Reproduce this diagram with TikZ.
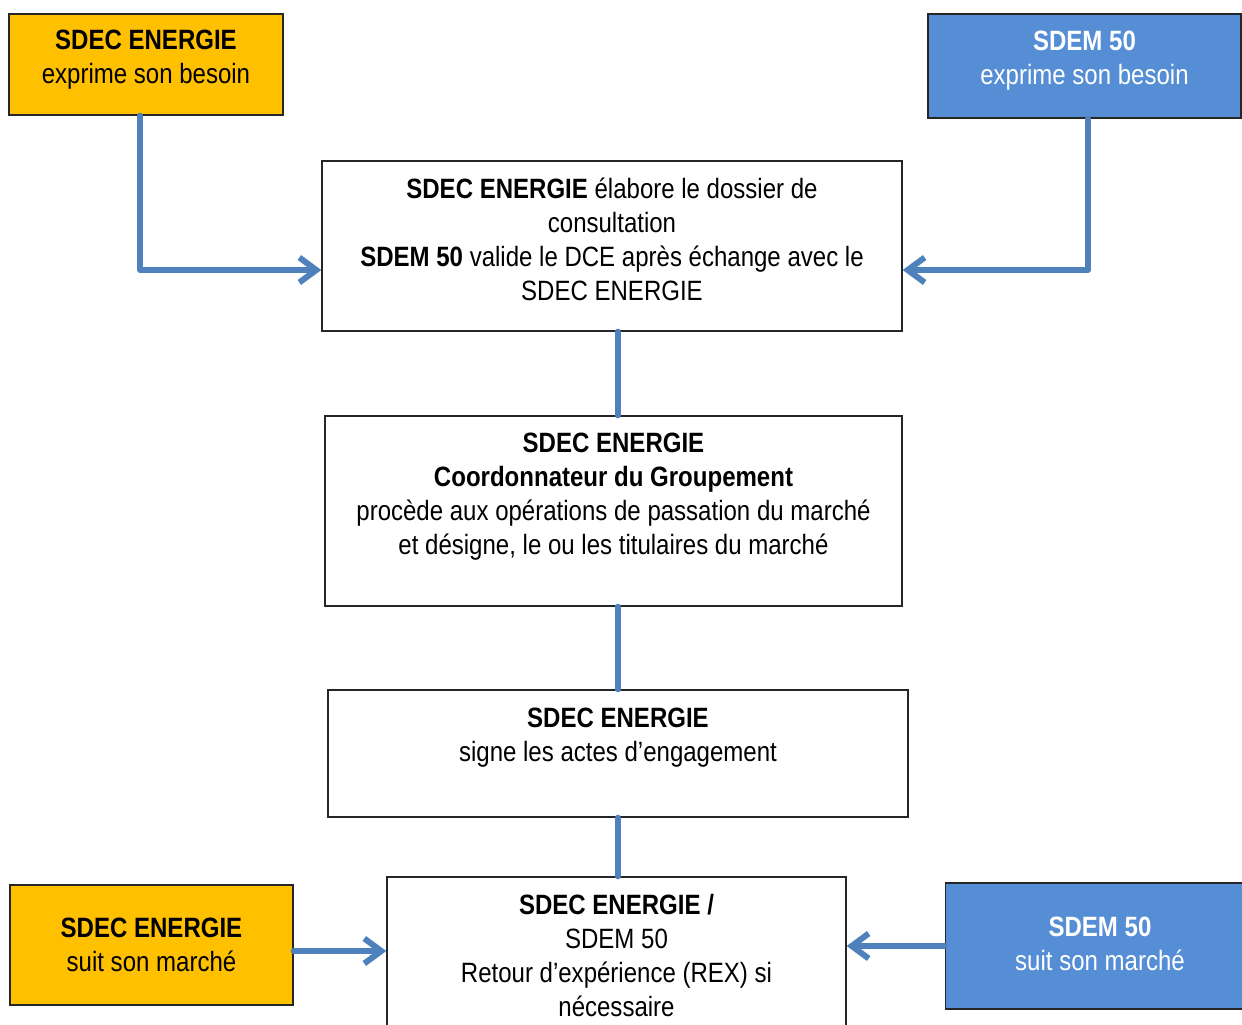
\documentclass[tikz,border=0pt]{standalone}
\usepackage{fontspec}
\setmainfont[FakeStretch=0.86]{Liberation Sans}
\usetikzlibrary{arrows.meta,positioning}
\definecolor{jaune}{RGB}{255,192,0}
\definecolor{bleu}{RGB}{85,142,213}
\definecolor{lien}{RGB}{79,129,189}

\begin{document}
\begin{tikzpicture}[x=0.02cm,y=-0.02cm,
  boite/.style={draw=black!85, line width=0.8pt, inner sep=0pt},
  texte/.style={align=center, inner sep=0pt, font=\fontsize{15.9}{19.3}\selectfont},
  fleche/.style={draw=lien, line width=3.4pt, line cap=round, line join=round},
  pointe/.style={-{Straight Barb[length=0.34cm,width=0.5cm]}}]

\useasboundingbox (0,0) rectangle (1242,1025);

% les cadres
\node[boite, fill=jaune, minimum width=5.48cm, minimum height=2.02cm] (besoinA) at (146,64.5) {};
\node[boite, fill=bleu, minimum width=6.26cm, minimum height=2.08cm] (besoinB) at (1084.5,66) {};
\node[boite, minimum width=11.6cm, minimum height=3.4cm] (dossier) at (612,246) {};
\node[boite, minimum width=11.54cm, minimum height=3.8cm] (passation) at (613.5,511) {};
\node[boite, minimum width=11.6cm, minimum height=2.54cm] (signature) at (618,753.5) {};
\node[boite, minimum width=9.18cm, minimum height=3.4cm] (rex) at (616.5,962) {};
\node[boite, fill=jaune, minimum width=5.66cm, minimum height=2.4cm] (suiviA) at (151.5,945) {};
\node[boite, fill=bleu, minimum width=6.02cm, minimum height=2.52cm] (suiviB) at (1096,946) {};

% les textes
\node[texte, below=0.32cm of besoinA.north] (besoinAt) {\textbf{SDEC ENERGIE}\\exprime son besoin};
\node[texte, text=white, below=0.35cm of besoinB.north] (besoinBt) {\textbf{SDEM 50}\\exprime son besoin};
\node[texte, below=0.35cm of dossier.north] (dossiert) {\textbf{SDEC ENERGIE} élabore le dossier de\\consultation\\\textbf{SDEM 50} valide le DCE après échange avec le\\SDEC ENERGIE};
\node[texte, below=0.35cm of passation.north] (passationt) {\textbf{SDEC ENERGIE}\\\textbf{Coordonnateur du Groupement}\\procède aux opérations de passation du marché\\et désigne, le ou les titulaires du marché};
\node[texte, below=0.36cm of signature.north] (signaturet) {\textbf{SDEC ENERGIE}\\signe les actes d’engagement};
\node[texte, below=0.35cm of rex.north] (rext) {\textbf{SDEC ENERGIE /}\\SDEM 50\\Retour d’expérience (REX) si\\nécessaire};
\node[texte, below=0.67cm of suiviA.north] (suiviAt) {\textbf{SDEC ENERGIE}\\suit son marché};
\node[texte, text=white, below=0.68cm of suiviB.north, xshift=0.08cm] (suiviBt) {\textbf{SDEM 50}\\suit son marché};

% les liaisons
\draw[fleche, pointe] ([xshift=-0.12cm]besoinA.south) |- ([yshift=-0.48cm]dossier.west);
\draw[fleche, pointe] ([xshift=0.07cm]besoinB.south) |- ([yshift=-0.48cm]dossier.east);
\draw[fleche] (dossier.south -| signature) -- (passation.north -| signature);
\draw[fleche] (passation.south -| signature) -- (signature.north -| signature);
\draw[fleche] (signature.south) -- (rex.north -| signature);
\draw[fleche, pointe] ([yshift=-0.12cm]suiviA.east) -- ([yshift=-0.12cm]suiviA.east -| rex.west);
\draw[fleche, pointe] (suiviB.west) -- (suiviB.west -| rex.east);
\end{tikzpicture}
\end{document}
